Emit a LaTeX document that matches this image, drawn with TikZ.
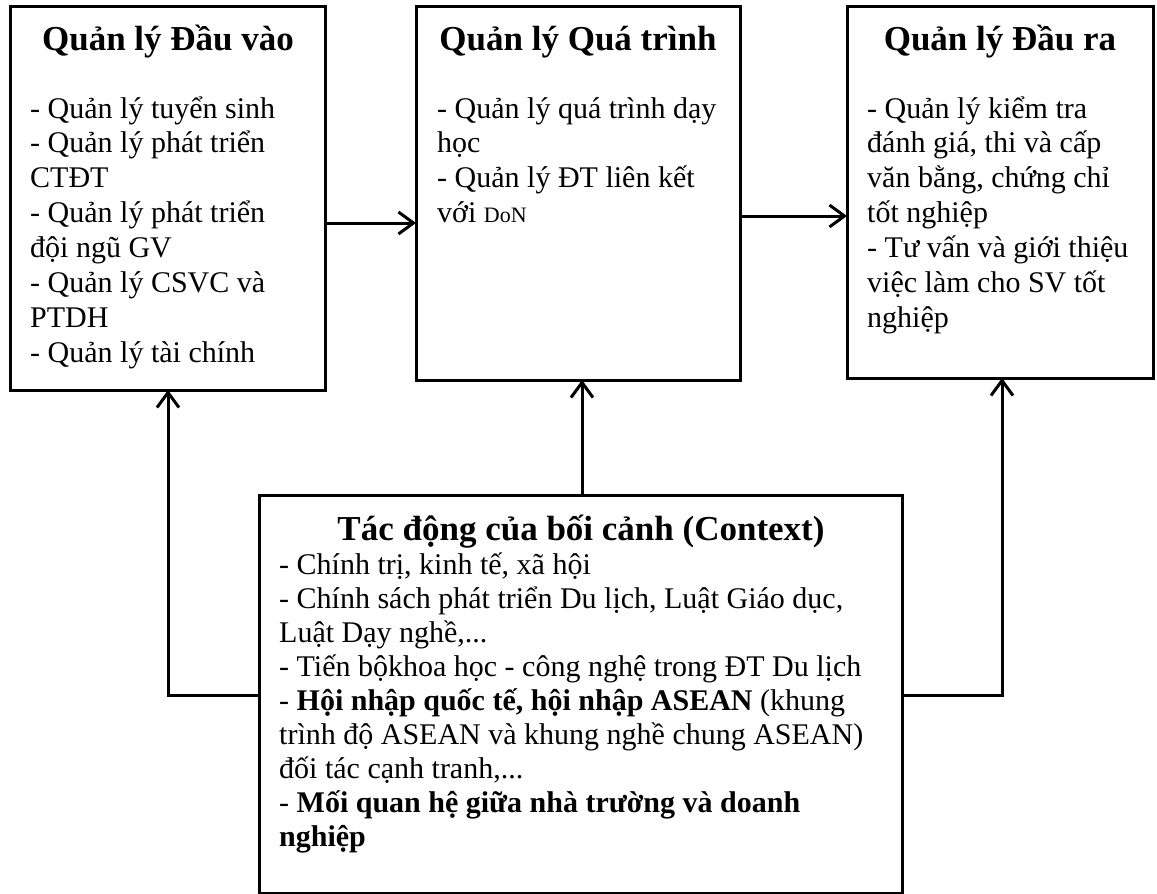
\documentclass[tikz,border=0pt]{standalone}
\usepackage{fontspec}
\setmainfont{Liberation Serif}
\usetikzlibrary{arrows.meta}

\begin{document}
\begin{tikzpicture}[x=1pt,y=-1pt,
  box/.style={draw, line width=3pt, inner sep=0pt, outer sep=0pt, anchor=north west},
  title/.style={anchor=base, inner sep=0pt, font=\fontsize{35}{40}\selectfont\bfseries},
  body/.style={anchor=base west, inner sep=0pt, text width=#1, align=flush left,
    font=\fontsize{30}{34.9}\selectfont},
  conn/.style={line width=3pt, -{Straight Barb[length=15pt,width=22pt,line width=3pt]}}
]
\fill[white] (0,0) rectangle (1157,894);
\useasboundingbox (0,0) rectangle (1157,894);

% the four boxes
\node[box, minimum width=315pt, minimum height=384pt] (in)   at (10,6) {};
\node[box, minimum width=324pt, minimum height=374pt] (proc) at (416,6) {};
\node[box, minimum width=306pt, minimum height=372pt] (out)  at (847,6) {};
\node[box, minimum width=643pt, minimum height=398pt] (ctx)  at (259,495) {};

% input management
\node[title] (inT) at (168,50) {Quản lý Đầu vào};
\node[body=300pt] (inB) at (30,118) {- Quản lý tuyển sinh\\
- Quản lý phát triển\\
CTĐT\\
- Quản lý phát triển\\
đội ngũ GV\\
- Quản lý CSVC và\\
PTDH\\
- Quản lý tài chính};

% process management
\node[title] (procT) at (578,50) {Quản lý Quá trình};
\node[body=310pt] (procB) at (437,118) {- Quản lý quá trình dạy\\
học\\
- Quản lý ĐT liên kết\\
với {\fontsize{22}{34.9}\selectfont DoN}};

% output management
\node[title] (outT) at (1000,50) {Quản lý Đầu ra};
\node[body=300pt] (outB) at (867,118) {- Quản lý kiểm tra\\
đánh giá, thi và cấp\\
văn bằng, chứng chỉ\\
tốt nghiệp\\
- Tư vấn và giới thiệu\\
việc làm cho SV tốt\\
nghiệp};

% context
\node[title] (ctxT) at (581,540) {Tác động của bối cảnh (Context)};
\node[body=640pt, font=\fontsize{30}{34}\selectfont] (ctxB) at (279,574) {- Chính trị, kinh tế, xã hội\\
- Chính sách phát triển Du lịch, Luật Giáo dục,\\
Luật Dạy nghề,...\\
- Tiến bộkhoa học - công nghệ trong ĐT Du lịch\\
- \textbf{Hội nhập quốc tế, hội nhập ASEAN} (khung\\
trình độ ASEAN và khung nghề chung ASEAN)\\
đối tác cạnh tranh,...\\
- \textbf{Mối quan hệ giữa nhà trường và doanh}\\
\textbf{nghiệp}};

% connector routing points
\coordinate (r1) at (0,223);
\coordinate (r2) at (0,216);
\coordinate (kl) at (168,695);
\coordinate (km) at (582,0);
\coordinate (kr) at (1002,695);

\draw[conn] (in.east |- r1) -- (proc.west |- r1);
\draw[conn] (proc.east |- r2) -- (out.west |- r2);
\draw[conn] (ctx.west |- kl) -| (in.south -| kl);
\draw[conn] (ctx.north -| km) -- (proc.south -| km);
\draw[conn] (ctx.east |- kr) -| (out.south -| kr);
\end{tikzpicture}
\end{document}
